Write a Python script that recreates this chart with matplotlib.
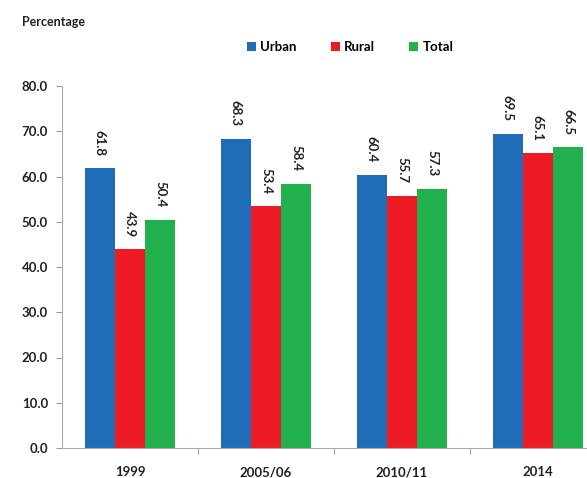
import matplotlib.pyplot as plt
import numpy as np

plt.rcParams['font.family'] = ['Lato', 'DejaVu Sans']

anos = ['1999', '2005/06', '2010/11', '2014']
urbano = [61.8, 68.3, 60.4, 69.5]
rural = [43.9, 53.4, 55.7, 65.1]
total = [50.4, 58.4, 57.3, 66.5]
series = [('Urban', urbano, '#1f6db8'), ('Rural', rural, '#ed1c24'), ('Total', total, '#22b14c')]

fig = plt.figure(figsize=(5.87, 4.78), dpi=100)
# eixo cortado na direita, como no original
ax = fig.add_axes([62/587, 30/478, (587-62)/587, (448-86)/478])

x = np.arange(len(anos))
largura = 0.222
for k, (nome, valores, cor) in enumerate(series):
    pos = x + (k - 1) * largura
    barras = ax.bar(pos, valores, largura, color=cor, label=nome, linewidth=0)
    for p, v in zip(pos, valores):
        ax.annotate(f'{v:.1f}', xy=(p, v), xytext=(0, 9), textcoords='offset points',
                    rotation=-90, ha='center', va='bottom', fontsize=9.5, fontweight='bold',
                    color='#222222')

ax.set_xlim(-0.5, -0.5 + 525/136)
ax.set_ylim(0, 80)
ax.set_yticks(np.arange(0, 81, 10))
ax.set_yticklabels([f'{t:.1f}' for t in np.arange(0, 81, 10)], fontsize=9.5, fontweight='bold',
                   color='#222222')
ax.set_xticks(x)
ax.set_xticklabels(anos, fontsize=9.5, fontweight='bold', color='#222222')
ax.tick_params(axis='x', length=0, pad=13)
ax.set_xticks(np.arange(0.5, 3.5, 1), minor=True)
ax.tick_params(axis='x', which='minor', length=4, color='#999999', direction='out')
ax.tick_params(axis='y', length=4, color='#999999', pad=6)
for lado in ['top', 'right']:
    ax.spines[lado].set_visible(False)
ax.spines['left'].set_color('#aaaaaa')
ax.spines['bottom'].set_color('#aaaaaa')

fig.text(22/587, 1 - 22/478, 'Percentage', fontsize=9, fontweight='bold', va='center', color='#222222')
fig.legend(loc='center', bbox_to_anchor=(350/587, 1 - 47/478), ncol=3, frameon=False,
           handlelength=0.7, handleheight=0.7, handletextpad=0.3,
           columnspacing=2.6, prop={'weight': 'bold', 'size': 9.5})

fig.savefig('out.png', dpi=100)
